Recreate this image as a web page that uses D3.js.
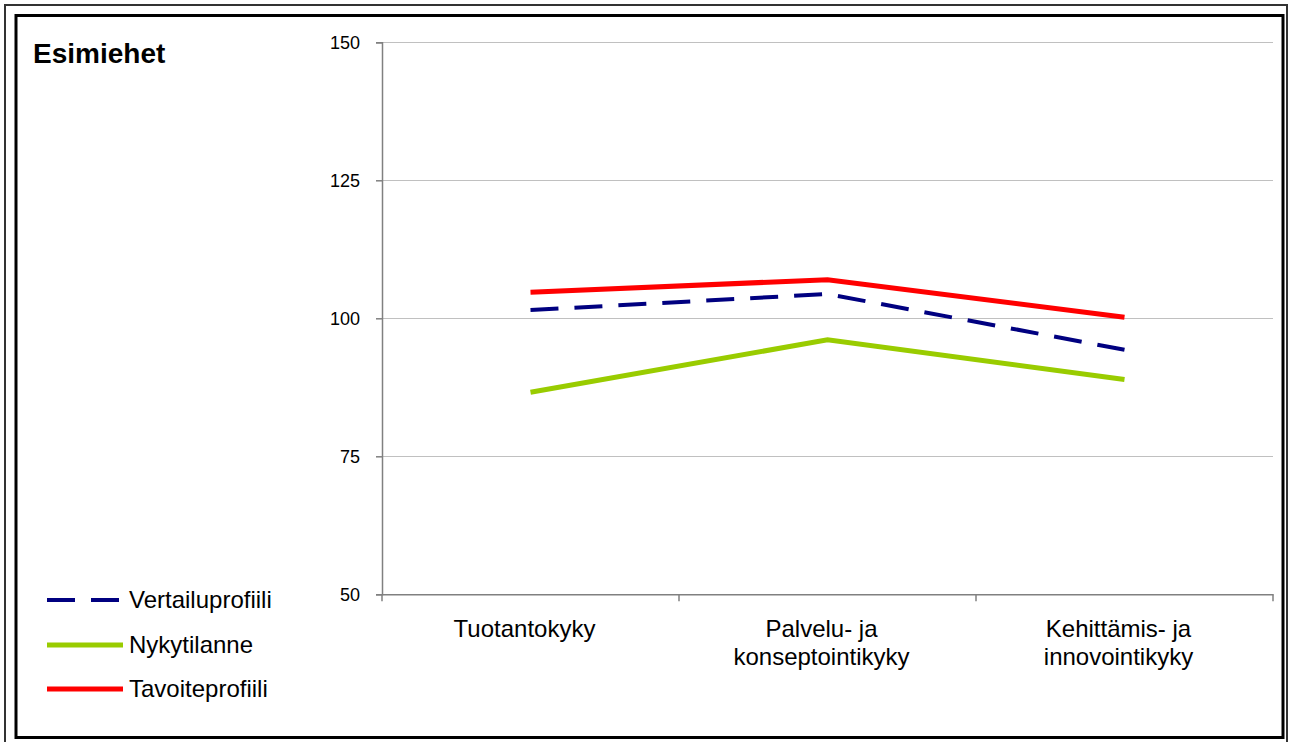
<!DOCTYPE html>
<html>
<head>
<meta charset="utf-8">
<script src="https://cdn.jsdelivr.net/npm/d3@7"></script>
<style>
  html, body { margin: 0; padding: 0; background: #fff; }
  svg { display: block; font-family: "Liberation Sans", Arial, sans-serif; }
</style>
</head>
<body>
<svg id="chart" width="1292" height="742"></svg>
<script>
// Competence profile of supervisors
const title = "Esimiehet";
const categories = [
  ["Tuotantokyky"],
  ["Palvelu- ja", "konseptointikyky"],
  ["Kehittämis- ja", "innovointikyky"]
];
const seriesNames = ["Vertailuprofiili", "Nykytilanne", "Tavoiteprofiili"];
const vertailuprofiili = [101.5, 104.4, 94.3];
const nykytilanne = [86.6, 96.1, 88.9];
const tavoiteprofiili = [104.7, 107.0, 100.2];
const yTicks = [50, 75, 100, 125, 150];

const series = [
  { name: seriesNames[0], values: vertailuprofiili, color: "#000080", width: 4, dash: "28,16" },
  { name: seriesNames[1], values: nykytilanne, color: "#99cc00", width: 5, dash: null },
  { name: seriesNames[2], values: tavoiteprofiili, color: "#ff0000", width: 5, dash: null }
];

const svg = d3.select("#chart");

// frames
svg.append("rect").attr("x", 5).attr("y", 5).attr("width", 1282).attr("height", 745)
  .attr("fill", "none").attr("stroke", "#333").attr("stroke-width", 2);
svg.append("rect").attr("x", 16).attr("y", 15.5).attr("width", 1267).attr("height", 722)
  .attr("fill", "none").attr("stroke", "#000").attr("stroke-width", 3);

const plot = { left: 382, right: 1273, top: 42.3, bottom: 594.3 };

const y = d3.scaleLinear().domain([50, 150]).range([plot.bottom, plot.top]);
const x = d3.scaleBand().domain(d3.range(categories.length))
  .range([plot.left, plot.right]).paddingInner(0).paddingOuter(0);
const cx = i => x(i) + x.bandwidth() / 2;

// gridlines
svg.append("g").selectAll("line").data(yTicks.filter(t => t !== 50)).join("line")
  .attr("x1", plot.left).attr("x2", plot.right)
  .attr("y1", d => Math.round(y(d)) + 0.5).attr("y2", d => Math.round(y(d)) + 0.5)
  .attr("stroke", "#c0c0c0").attr("stroke-width", 1.2);

// y axis
const yAxis = svg.append("g").attr("transform", `translate(${plot.left},0)`)
  .call(d3.axisLeft(y).tickValues(yTicks).tickSize(6).tickPadding(16));
yAxis.select(".domain").attr("stroke", "#808080").attr("stroke-width", 1.5);
yAxis.selectAll(".tick line").attr("stroke", "#808080").attr("stroke-width", 1.5);
yAxis.selectAll(".tick text").attr("font-size", 18).attr("fill", "#000")
  .attr("font-family", "Liberation Sans, Arial, sans-serif");

// x axis
const xAxis = svg.append("g").attr("transform", `translate(0,${plot.bottom})`)
  .call(d3.axisBottom(x).tickSize(0).tickFormat(""));
xAxis.select(".domain").attr("stroke", "#808080").attr("stroke-width", 1.5);
xAxis.selectAll(".tick").remove();
// category boundary ticks
const bounds = d3.range(categories.length + 1).map(i => i === categories.length ? plot.right : x(i));
xAxis.selectAll("line.bt").data(bounds).join("line").attr("class", "bt")
  .attr("x1", d => d).attr("x2", d => d).attr("y1", 0).attr("y2", 7)
  .attr("stroke", "#808080").attr("stroke-width", 1.5);

// category labels
const catG = svg.append("g");
categories.forEach((lines, i) => {
  const lx = cx(i) - 6;
  const t = catG.append("text").attr("x", lx).attr("y", 637)
    .attr("text-anchor", "middle").attr("font-size", 24).attr("fill", "#000");
  lines.forEach((ln, j) => {
    t.append("tspan").attr("x", lx).attr("dy", j === 0 ? 0 : 28).text(ln);
  });
});

// lines
const line = d3.line().x((d, i) => cx(i)).y(d => y(d));
svg.append("g").selectAll("path").data(series).join("path")
  .attr("d", d => line(d.values))
  .attr("fill", "none").attr("stroke", d => d.color).attr("stroke-width", d => d.width)
  .attr("stroke-dasharray", d => d.dash).attr("stroke-linejoin", "miter");

// title
svg.append("text").attr("x", 33).attr("y", 63).attr("font-size", 28).attr("font-weight", "bold")
  .attr("fill", "#000").text(title);

// legend
const legY = [600, 645, 689];
const leg = svg.append("g");
series.forEach((s, i) => {
  leg.append("line").attr("x1", 47).attr("x2", 123).attr("y1", legY[i]).attr("y2", legY[i])
    .attr("stroke", s.color).attr("stroke-width", s.width).attr("stroke-dasharray", s.dash);
  leg.append("text").attr("x", 129).attr("y", legY[i] + 8).attr("font-size", 24)
    .attr("fill", "#000").text(s.name);
});
</script>
</body>
</html>
